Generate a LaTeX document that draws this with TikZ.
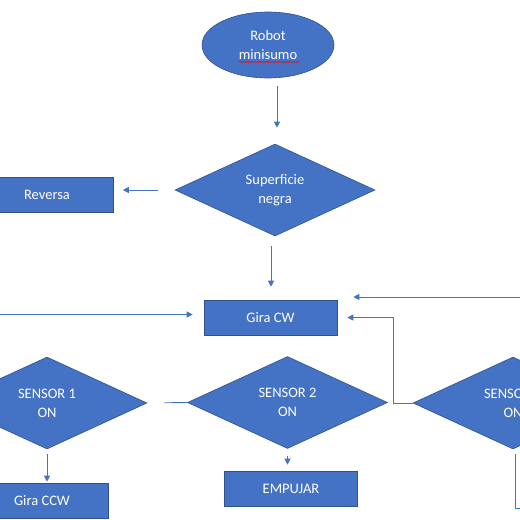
\documentclass[tikz,border=0pt]{standalone}
\usepackage{fontspec}
\setmainfont{Carlito}
\usetikzlibrary{arrows.meta,shapes.geometric,decorations.pathmorphing}
\definecolor{officeblue}{HTML}{4472C4}
\definecolor{officeedge}{HTML}{2F528F}
\tikzset{>={Triangle[length=6pt,width=6pt]}}

\begin{document}
\begin{tikzpicture}[x=1pt,y=-1pt,
    font=\fontsize{14.5}{19}\selectfont,
    shapebase/.style={draw=officeedge,line width=0.6pt,fill=officeblue,text=white,
                      align=center,inner sep=0pt},
    startbox/.style={shapebase,ellipse,minimum width=132pt,minimum height=66pt},
    decision/.style={shapebase,diamond,shape aspect=2,minimum width=200pt,minimum height=92pt},
    actionbox/.style={shapebase,rectangle,minimum width=133pt,minimum height=35pt},
    flow/.style={->,officeblue,line width=0.9pt},
    link/.style={officeblue,line width=0.9pt}]
  \useasboundingbox (0,0) rectangle (520,520);
  \clip (0,0) rectangle (520,520);
  % blocks
  \node[startbox] (start) at (268,45) {Robot\\minisumo};
  \node[decision] (sup) at (275,190) {Superficie\\negra};
  \node[actionbox] (rev) at (47,194.5) {Reversa};
  \node[actionbox] (giracw) at (270.5,317.5) {Gira CW};
  \node[decision] (s1) at (47,403) {SENSOR 1\\ON};
  \node[decision] (s2) at (287.5,402.5) {SENSOR 2\\ON};
  \node[decision] (s3) at (513,403) {SENSOR 3\\ON};
  \node[actionbox] (giraccw) at (42,500.5) {Gira CCW};
  \node[actionbox] (empujar) at (291,488.5) {EMPUJAR};
  % spelling mark
  \draw[red,line width=0.5pt,decorate,decoration={snake,amplitude=0.6pt,segment length=2.5pt}]
       (239,62) -- (299,62);
  % loose ends
  \coordinate (fromleft) at (0,314.5);
  \coordinate (fromright) at (520,297);
  \coordinate (toright) at (525,508);
  % connectors
  \draw[flow,shorten <=8pt,shorten >=16pt] ([xshift=9pt]start.south) -- ([xshift=2pt]sup.north);
  \draw[flow,shorten <=17pt,shorten >=9pt] (sup.west) -- (sup.west -| rev.east);
  \draw[flow,shorten <=10pt,shorten >=13pt] ([xshift=-4pt]sup.south) -- ([xshift=0.5pt]giracw.north);
  \draw[flow,shorten >=11pt] (fromleft) -- (fromleft -| giracw.west);
  \draw[flow,shorten >=16pt] (fromright) -- (fromright -| giracw.east);
  \draw[flow,shorten >=10pt] (s3.west) -- ++(-19,0) |- (giracw.east);
  \draw[link,shorten <=17pt] (s1.east) -- (s2.west);
  \draw[flow,shorten <=5pt,shorten >=1pt] (s1.south) -- (s1.south |- giraccw.north);
  \draw[flow,shorten <=7pt,shorten >=6pt] (s2.south) -- (s2.south |- empujar.north);
  \draw[link,shorten <=5pt] ([xshift=2pt]s3.south) |- (toright);
\end{tikzpicture}
\end{document}
